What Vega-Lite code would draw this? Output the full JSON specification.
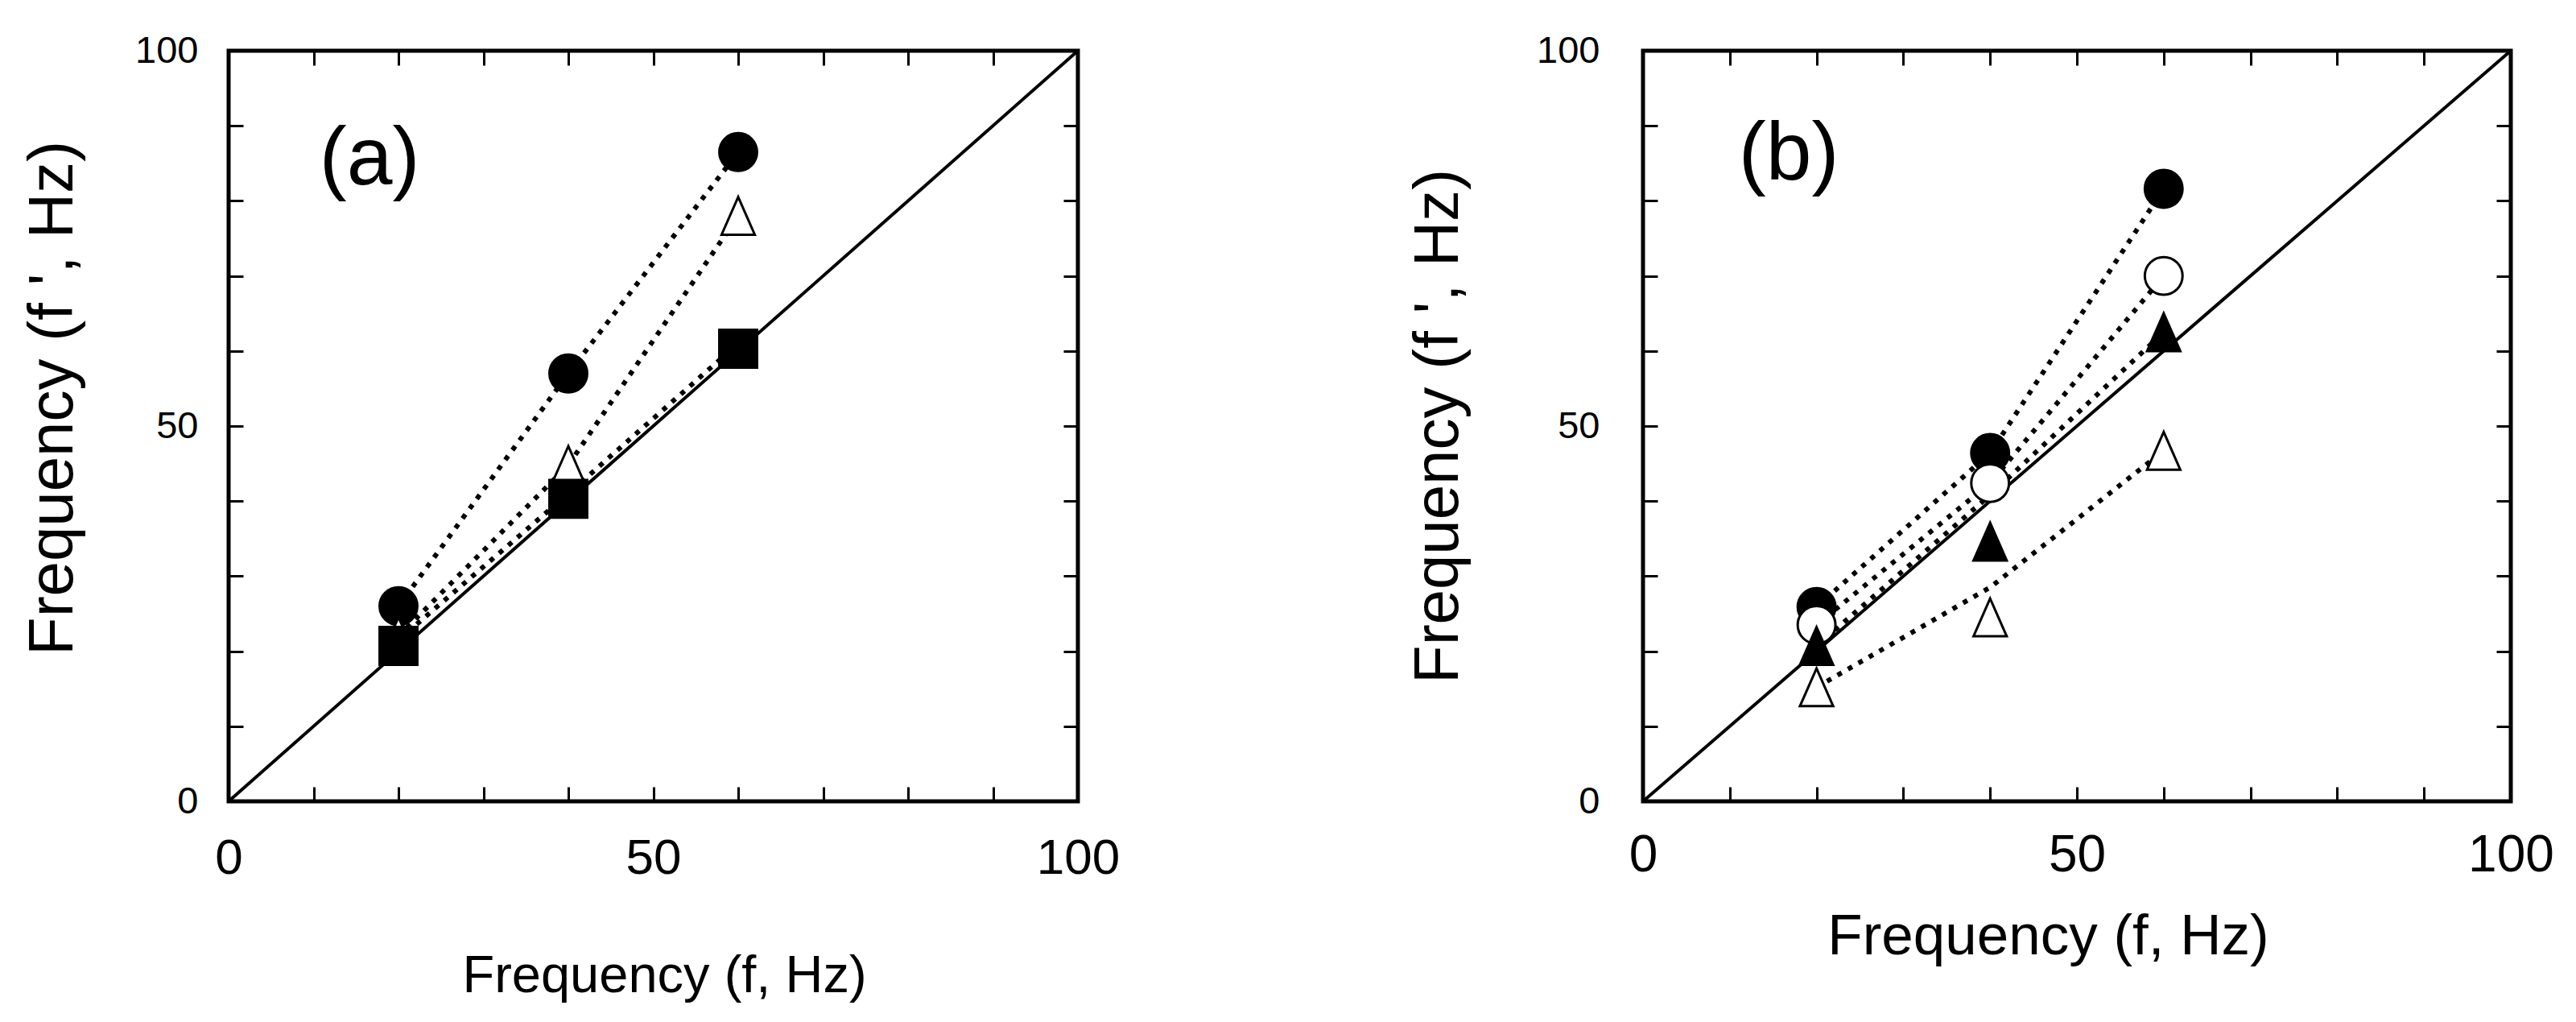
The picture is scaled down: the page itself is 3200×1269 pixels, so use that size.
{
  "$schema": "https://vega.github.io/schema/vega-lite/v6.json",
  "autosize": {"type": "pad"},
  "padding": {"left": 25, "top": 36, "right": 10, "bottom": 10},
  "background": "white",
  "config": {
    "font": "Liberation Sans",
    "view": {"stroke": "black", "strokeWidth": 5},
    "axis": {"grid": false, "domain": false, "tickColor": "black", "tickWidth": 3, "labelColor": "black", "titleColor": "black", "titleFontWeight": "normal"}
  },
  "datasets": {
    "diag": [{"f": 0, "fp": 0}, {"f": 100, "fp": 100}],
    "pts": [
      {"panel": "a", "series": "filled circle", "f": 20, "fp": 26},
      {"panel": "a", "series": "filled circle", "f": 40, "fp": 57},
      {"panel": "a", "series": "filled circle", "f": 60, "fp": 86.5},
      {"panel": "a", "series": "open triangle", "f": 20, "fp": 22},
      {"panel": "a", "series": "open triangle", "f": 40, "fp": 44.8},
      {"panel": "a", "series": "open triangle", "f": 60, "fp": 78},
      {"panel": "a", "series": "filled square", "f": 20, "fp": 20.7},
      {"panel": "a", "series": "filled square", "f": 40, "fp": 40.3},
      {"panel": "a", "series": "filled square", "f": 60, "fp": 60.3},
      {"panel": "b", "series": "filled circle", "f": 20, "fp": 25.9},
      {"panel": "b", "series": "filled circle", "f": 40, "fp": 46.4},
      {"panel": "b", "series": "filled circle", "f": 60, "fp": 81.6},
      {"panel": "b", "series": "open circle", "f": 20, "fp": 23.5},
      {"panel": "b", "series": "open circle", "f": 40, "fp": 42.4},
      {"panel": "b", "series": "open circle", "f": 60, "fp": 70},
      {"panel": "b", "series": "filled triangle", "f": 20, "fp": 20.7},
      {"panel": "b", "series": "filled triangle", "f": 40, "fp": 34.6},
      {"panel": "b", "series": "filled triangle", "f": 60, "fp": 62.5},
      {"panel": "b", "series": "open triangle", "f": 20, "fp": 15.2},
      {"panel": "b", "series": "open triangle", "f": 40, "fp": 24.5},
      {"panel": "b", "series": "open triangle", "f": 60, "fp": 46.7}
    ],
    "lines": [
      {"panel": "a", "series": "filled circle", "f": 20, "fp": 26},
      {"panel": "a", "series": "filled circle", "f": 40, "fp": 57},
      {"panel": "a", "series": "filled circle", "f": 60, "fp": 86.5},
      {"panel": "a", "series": "open triangle", "f": 20, "fp": 22},
      {"panel": "a", "series": "open triangle", "f": 40, "fp": 44.8},
      {"panel": "a", "series": "open triangle", "f": 60, "fp": 78},
      {"panel": "a", "series": "filled square", "f": 20, "fp": 21.5},
      {"panel": "a", "series": "filled square", "f": 40, "fp": 41},
      {"panel": "a", "series": "filled square", "f": 60, "fp": 61},
      {"panel": "b", "series": "filled circle", "f": 20, "fp": 25.9},
      {"panel": "b", "series": "filled circle", "f": 40, "fp": 46.4},
      {"panel": "b", "series": "filled circle", "f": 60, "fp": 81.6},
      {"panel": "b", "series": "open circle", "f": 20, "fp": 23.5},
      {"panel": "b", "series": "open circle", "f": 40, "fp": 42.4},
      {"panel": "b", "series": "open circle", "f": 60, "fp": 70},
      {"panel": "b", "series": "filled triangle", "f": 20, "fp": 20.7},
      {"panel": "b", "series": "filled triangle", "f": 40, "fp": 40.8},
      {"panel": "b", "series": "filled triangle", "f": 60, "fp": 62.5},
      {"panel": "b", "series": "open triangle", "f": 20, "fp": 15.2},
      {"panel": "b", "series": "open triangle", "f": 40, "fp": 28.5},
      {"panel": "b", "series": "open triangle", "f": 60, "fp": 46.7}
    ],
    "labels": [
      {"panel": "a", "label": "(a)", "f": 16.6, "fp": 85.5},
      {"panel": "b", "label": "(b)", "f": 16.8, "fp": 86.2}
    ]
  },
  "bounds": "flush",
  "spacing": 702,
  "hconcat": [
    {
      "width": 1055,
      "height": 932,
      "resolve": {"axis": {"x": "independent", "y": "independent"}},
      "layer": [
        {
          "data": {"name": "diag"},
          "mark": {"type": "line", "color": "black", "strokeWidth": 4},
          "encoding": {
            "x": {"field": "f", "type": "quantitative", "scale": {"domain": [0, 100], "nice": false},
              "axis": {"orient": "bottom", "values": [0, 10, 20, 30, 40, 50, 60, 70, 80, 90, 100], "labelExpr": "datum.value % 50 === 0 ? datum.label : ''", "tickSize": -18, "labelPadding": 58, "labelFontSize": 62, "labelFlush": false, "title": "Frequency (f, Hz)", "titleFontSize": 65, "titlePadding": 84, "titleX": 541}},
            "y": {"field": "fp", "type": "quantitative", "scale": {"domain": [0, 100], "nice": false},
              "axis": {"orient": "left", "values": [0, 10, 20, 30, 40, 50, 60, 70, 80, 90, 100], "labelExpr": "datum.value % 50 === 0 ? datum.label : ''", "tickSize": -18, "labelPadding": 56, "labelFontSize": 47, "labelFlush": false, "title": "Frequency (f ', Hz)", "titleFontSize": 78, "titlePadding": 62, "titleY": 431}}
          }
        },
        {
          "data": {"name": "lines"},
          "transform": [{"filter": "datum.panel === 'a'"}],
          "mark": {"type": "line", "color": "black", "strokeWidth": 6, "strokeDash": [6, 9]},
          "encoding": {
            "x": {"field": "f", "type": "quantitative", "scale": {"domain": [0, 100], "nice": false},
              "axis": {"orient": "top", "values": [0, 10, 20, 30, 40, 50, 60, 70, 80, 90, 100], "labels": false, "tickSize": -18, "title": null}},
            "y": {"field": "fp", "type": "quantitative", "scale": {"domain": [0, 100], "nice": false},
              "axis": {"orient": "right", "values": [0, 10, 20, 30, 40, 50, 60, 70, 80, 90, 100], "labels": false, "tickSize": -18, "title": null}},
            "detail": {"field": "series"}
          }
        },
        {
          "data": {"name": "pts"},
          "transform": [{"filter": "datum.panel === 'a'"}],
          "mark": {"type": "point", "size": 2200, "strokeWidth": 3, "stroke": "black", "opacity": 1},
          "encoding": {
            "x": {"field": "f", "type": "quantitative", "scale": {"domain": [0, 100], "nice": false}, "axis": null},
            "y": {"field": "fp", "type": "quantitative", "scale": {"domain": [0, 100], "nice": false}, "axis": null},
            "shape": {"field": "series", "type": "nominal", "legend": null,
              "scale": {"domain": ["filled circle", "open circle", "filled triangle", "open triangle", "filled square"], "range": ["circle", "circle", "M0,-1L-0.88,1L0.88,1Z", "M0,-1L-0.88,1L0.88,1Z", "square"]}},
            "fill": {"field": "series", "type": "nominal", "legend": null,
              "scale": {"domain": ["filled circle", "open circle", "filled triangle", "open triangle", "filled square"], "range": ["black", "white", "black", "white", "black"]}}
          }
        },
        {
          "data": {"name": "labels"},
          "transform": [{"filter": "datum.panel === 'a'"}],
          "mark": {"type": "text", "fontSize": 102, "align": "center", "baseline": "middle", "color": "black"},
          "encoding": {
            "x": {"field": "f", "type": "quantitative", "scale": {"domain": [0, 100], "nice": false}, "axis": null},
            "y": {"field": "fp", "type": "quantitative", "scale": {"domain": [0, 100], "nice": false}, "axis": null},
            "text": {"field": "label"}
          }
        }
      ]
    },
    {
      "width": 1078,
      "height": 932,
      "resolve": {"axis": {"x": "independent", "y": "independent"}},
      "layer": [
        {
          "data": {"name": "diag"},
          "mark": {"type": "line", "color": "black", "strokeWidth": 4},
          "encoding": {
            "x": {"field": "f", "type": "quantitative", "scale": {"domain": [0, 100], "nice": false},
              "axis": {"orient": "bottom", "values": [0, 10, 20, 30, 40, 50, 60, 70, 80, 90, 100], "labelExpr": "datum.value % 50 === 0 ? datum.label : ''", "tickSize": -18, "labelPadding": 53, "labelFontSize": 64, "labelFlush": false, "title": "Frequency (f, Hz)", "titleFontSize": 71, "titlePadding": 34, "titleX": 503}},
            "y": {"field": "fp", "type": "quantitative", "scale": {"domain": [0, 100], "nice": false},
              "axis": {"orient": "left", "values": [0, 10, 20, 30, 40, 50, 60, 70, 80, 90, 100], "labelExpr": "datum.value % 50 === 0 ? datum.label : ''", "tickSize": -18, "labelPadding": 72, "labelFontSize": 47, "labelFlush": false, "title": "Frequency (f ', Hz)", "titleFontSize": 78, "titlePadding": 82}}
          }
        },
        {
          "data": {"name": "lines"},
          "transform": [{"filter": "datum.panel === 'b'"}],
          "mark": {"type": "line", "color": "black", "strokeWidth": 6, "strokeDash": [6, 9]},
          "encoding": {
            "x": {"field": "f", "type": "quantitative", "scale": {"domain": [0, 100], "nice": false},
              "axis": {"orient": "top", "values": [0, 10, 20, 30, 40, 50, 60, 70, 80, 90, 100], "labels": false, "tickSize": -18, "title": null}},
            "y": {"field": "fp", "type": "quantitative", "scale": {"domain": [0, 100], "nice": false},
              "axis": {"orient": "right", "values": [0, 10, 20, 30, 40, 50, 60, 70, 80, 90, 100], "labels": false, "tickSize": -18, "title": null}},
            "detail": {"field": "series"}
          }
        },
        {
          "data": {"name": "pts"},
          "transform": [{"filter": "datum.panel === 'b'"}],
          "mark": {"type": "point", "size": 2200, "strokeWidth": 3, "stroke": "black", "opacity": 1},
          "encoding": {
            "x": {"field": "f", "type": "quantitative", "scale": {"domain": [0, 100], "nice": false}, "axis": null},
            "y": {"field": "fp", "type": "quantitative", "scale": {"domain": [0, 100], "nice": false}, "axis": null},
            "shape": {"field": "series", "type": "nominal", "legend": null,
              "scale": {"domain": ["filled circle", "open circle", "filled triangle", "open triangle", "filled square"], "range": ["circle", "circle", "M0,-1L-0.88,1L0.88,1Z", "M0,-1L-0.88,1L0.88,1Z", "square"]}},
            "fill": {"field": "series", "type": "nominal", "legend": null,
              "scale": {"domain": ["filled circle", "open circle", "filled triangle", "open triangle", "filled square"], "range": ["black", "white", "black", "white", "black"]}}
          }
        },
        {
          "data": {"name": "labels"},
          "transform": [{"filter": "datum.panel === 'b'"}],
          "mark": {"type": "text", "fontSize": 102, "align": "center", "baseline": "middle", "color": "black"},
          "encoding": {
            "x": {"field": "f", "type": "quantitative", "scale": {"domain": [0, 100], "nice": false}, "axis": null},
            "y": {"field": "fp", "type": "quantitative", "scale": {"domain": [0, 100], "nice": false}, "axis": null},
            "text": {"field": "label"}
          }
        }
      ]
    }
  ]
}
